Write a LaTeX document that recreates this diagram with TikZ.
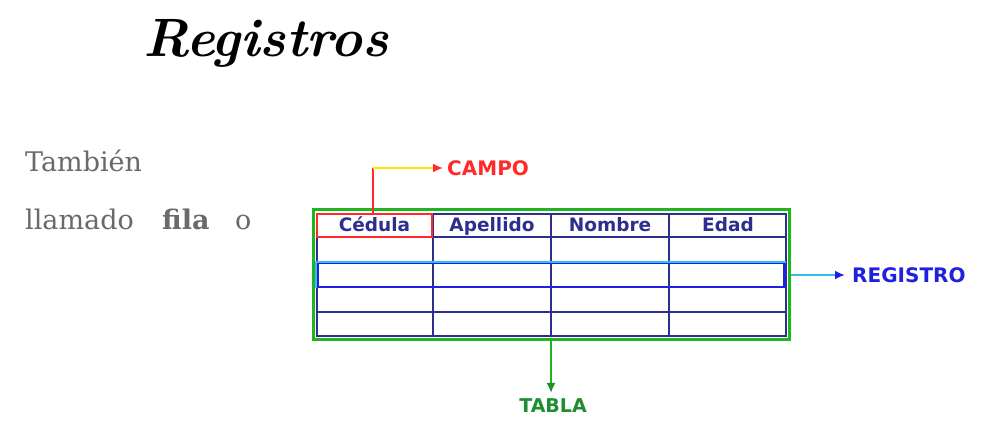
\documentclass[tikz,border=0pt]{standalone}
\usepackage{fontspec}
\newfontfamily\bodyfont{DejaVu Serif}
\newfontfamily\labelfont{DejaVu Sans}
\usetikzlibrary{positioning, arrows.meta}

\begin{document}
\begin{tikzpicture}[x=1pt, y=-1pt,
        headtext/.style={font=\labelfont\bfseries\fontsize{18.5}{18.5}\selectfont, text=tablenavy, inner sep=0pt, anchor=base},
        tagtext/.style={font=\labelfont\bfseries\fontsize{20}{20}\selectfont, inner sep=0pt, anchor=west},
        plaintext/.style={font=\bodyfont\fontsize{27}{27}\selectfont, text=textgray, inner sep=0pt, anchor=base west},
        pointer/.style={line width=1.8pt}]
        \definecolor{tablenavy}{HTML}{2E2E8E}
        \definecolor{tablegreen}{HTML}{1FB51F}
        \definecolor{tagred}{HTML}{FF2A2A}
        \definecolor{tagblue}{HTML}{2020E0}
        \definecolor{taggreen}{HTML}{1E8E2E}
        \definecolor{textgray}{HTML}{6A6A6A}
        \fill[white] (0,0) rectangle (997,443);

        \node[font=\bfseries\itshape\fontsize{54}{54}\selectfont, inner sep=0pt, anchor=base west] (titulo) at (143,57) {Registros};

        \node[plaintext] (tambien) at (25,172) {También};
        \node[plaintext] (llamado) at (25,230) {llamado};
        \node[plaintext, font=\bodyfont\bfseries\fontsize{27}{27}\selectfont] (fila) at (162,230) {fila};
        \node[plaintext] (o) at (235,230) {o};

        % tabla
        \node[draw=tablegreen, line width=3pt, minimum width=476pt, minimum height=130pt, inner sep=0pt] (tabla) at (551.5,275) {};
        \draw[tablenavy, line width=1.4pt] (317,214) rectangle (786,336);
        \foreach \y in {237,262,287,312}
            \draw[tablenavy, line width=1.2pt] (317,\y) -- (786,\y);
        \foreach \x in {433,551,669}
            \draw[tablenavy, line width=1.2pt] (\x,214) -- (\x,336);
        \node[draw=tagred, line width=1.6pt, minimum width=115pt, minimum height=23pt, inner sep=0pt] (cedula) at (374.5,225.5) {};
        \node[draw=tagblue, line width=2.2pt, minimum width=467pt, minimum height=24pt, inner sep=0pt] (fila registro) at (551,275) {};
        \draw[cyan!80!white, line width=2pt] (fila registro.south west) -- (fila registro.north west) -- (fila registro.north east);

        \node[headtext] at (374.5,232) {Cédula};
        \node[headtext] at (492,232) {Apellido};
        \node[headtext] at (610,232) {Nombre};
        \node[headtext] at (728,232) {Edad};

        % etiquetas
        \node[tagtext, text=tagred] (campo) at (447,168) {CAMPO};
        \node[tagtext, text=tagblue] (registro) at (852,275) {REGISTRO};
        \node[tagtext, text=taggreen, font=\labelfont\bfseries\fontsize{19}{19}\selectfont, anchor=north] (tablalabel) at (553,398) {TABLA};

        \coordinate (campo corner) at (373,168);
        \coordinate (tabla tip) at (551,393);
        \draw[tagred, line width=1.6pt] ([xshift=-1.5pt]cedula.north) -- (campo corner);
        \draw[pointer, yellow!90!orange, -{Latex[length=10pt, width=9pt, color=tagred]}] (campo corner) -- ([xshift=-4pt]campo.west);
        \draw[pointer, cyan!80!white, -{Latex[length=10pt, width=9pt, color=tagblue]}] (tabla.east |- fila registro) -- ([xshift=-7pt]registro.west);
        \draw[pointer, tablegreen, -{Latex[length=10pt, width=9pt, color=taggreen]}] (tabla.south -| tabla tip) -- (tabla tip);
\end{tikzpicture}
\end{document}
